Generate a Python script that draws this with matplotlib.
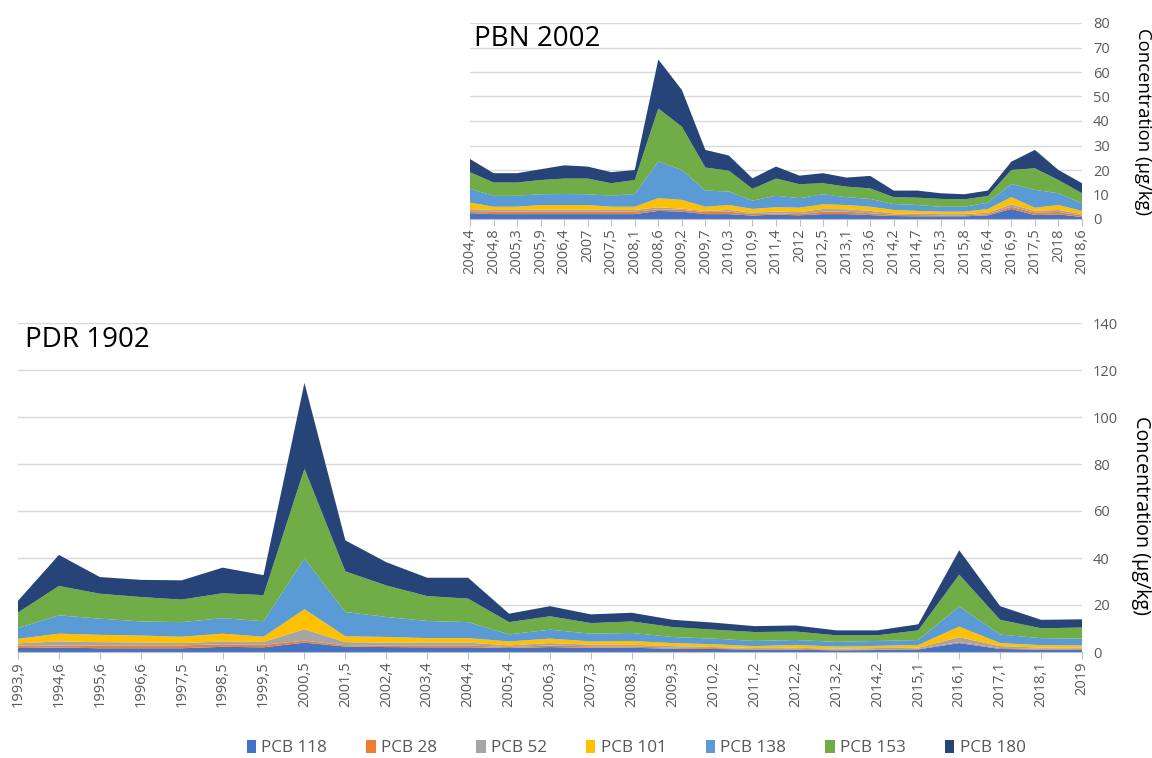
import numpy as np
import matplotlib
matplotlib.use("Agg")
import matplotlib.pyplot as plt
from matplotlib.patches import Patch

plt.rcParams['font.family'] = ['Open Sans', 'DejaVu Sans']

series_names = ['PCB 118', 'PCB 28', 'PCB 52', 'PCB 101', 'PCB 138', 'PCB 153', 'PCB 180']
colors = ['#4472C4', '#ED7D31', '#A5A5A5', '#FFC000', '#5B9BD5', '#70AD47', '#264478']

# --- PBN 2002 ---
pbn_dates = ['2004,4', '2004,8', '2005,3', '2005,9', '2006,4', '2007', '2007,5', '2008,1',
             '2008,6', '2009,2', '2009,7', '2010,3', '2010,9', '2011,4', '2012', '2012,5',
             '2013,1', '2013,6', '2014,2', '2014,7', '2015,3', '2015,8', '2016,4', '2016,9',
             '2017,5', '2018', '2018,6']
pbn_118 = [2.4, 2.0, 2.0, 2.0, 2.0, 2.0, 2.0, 2.0, 3.3, 3.0, 2.0, 2.0, 1.4, 1.8, 1.5, 2.0,
           2.0, 1.6, 1.2, 1.1, 1.1, 1.1, 1.5, 4.1, 1.6, 1.9, 0.8]
pbn_28 = [0.8, 1.0, 1.0, 1.0, 1.0, 1.0, 1.0, 1.0, 0.7, 0.7, 0.8, 1.0, 0.6, 0.5, 0.5, 1.0,
          1.0, 0.7, 0.6, 0.5, 0.4, 0.4, 0.5, 0.9, 1.0, 1.0, 0.6]
pbn_52 = [0.8, 0.7, 0.7, 0.8, 0.8, 0.8, 0.7, 0.7, 0.8, 0.5, 0.5, 0.7, 0.6, 0.7, 0.8, 1.1,
          1.0, 1.0, 0.5, 0.6, 0.5, 0.5, 0.6, 1.0, 0.7, 0.8, 0.6]
pbn_101 = [2.7, 1.3, 1.3, 1.9, 1.9, 1.9, 1.3, 1.3, 3.7, 3.6, 1.7, 2.0, 1.5, 1.8, 1.8, 1.9,
           1.7, 1.7, 1.4, 1.1, 1.0, 1.0, 1.5, 2.9, 1.3, 2.0, 1.3]
pbn_138 = [5.6, 4.5, 4.5, 4.4, 4.5, 4.4, 4.5, 5.2, 15.0, 12.2, 6.6, 5.5, 3.4, 4.7, 3.9, 4.1,
           3.2, 3.2, 2.4, 2.4, 2.0, 2.0, 2.6, 5.4, 7.3, 4.8, 3.1]
pbn_153 = [6.8, 5.4, 5.4, 5.8, 6.3, 6.4, 5.1, 5.7, 21.6, 17.7, 9.4, 8.5, 4.8, 7.0, 5.7, 4.5,
           4.3, 4.3, 2.8, 3.0, 3.2, 3.0, 2.7, 5.7, 8.8, 5.4, 4.1]
pbn_180 = [5.4, 3.8, 3.8, 4.4, 5.4, 4.9, 4.5, 4.1, 20.0, 15.0, 7.2, 6.2, 4.3, 4.9, 3.5, 4.1,
           3.7, 5.1, 2.7, 2.9, 2.3, 2.1, 2.2, 3.4, 7.5, 4.1, 4.1]

# --- PDR 1902 ---
pdr_dates = ['1993,9', '1994,6', '1995,6', '1996,6', '1997,5', '1998,5', '1999,5', '2000,5',
             '2001,5', '2002,4', '2003,4', '2004,4', '2005,4', '2006,3', '2007,3', '2008,3',
             '2009,3', '2010,2', '2011,2', '2012,2', '2013,2', '2014,2', '2015,1', '2016,1',
             '2017,1', '2018,1', '2019']
pdr_118 = [1.7, 1.9, 1.6, 1.6, 1.6, 2.2, 2.0, 4.0, 2.3, 2.1, 2.0, 2.0, 1.7, 2.1, 1.8, 1.8,
           1.4, 1.3, 1.0, 1.0, 0.7, 0.85, 1.1, 3.8, 1.3, 1.0, 1.0]
pdr_28 = [1.0, 0.8, 1.2, 1.2, 1.2, 1.1, 1.1, 0.8, 0.6, 0.7, 0.8, 0.8, 0.4, 0.7, 0.6, 0.6,
          0.4, 0.4, 0.3, 0.4, 0.3, 0.25, 0.3, 0.4, 0.4, 0.4, 0.4]
pdr_52 = [1.0, 1.8, 1.4, 1.3, 1.0, 1.2, 1.2, 4.9, 1.3, 1.2, 1.2, 1.2, 0.7, 1.0, 0.7, 0.7,
          0.7, 0.4, 0.4, 0.4, 0.4, 0.6, 0.4, 2.1, 0.8, 0.5, 0.4]
pdr_101 = [1.9, 3.3, 3.1, 2.9, 2.7, 3.3, 2.2, 8.5, 2.5, 2.4, 1.9, 1.9, 1.7, 1.9, 1.4, 1.6,
           1.3, 1.2, 0.8, 1.2, 0.9, 0.9, 1.2, 4.5, 1.3, 1.0, 1.0]
pdr_138 = [4.6, 7.8, 6.9, 6.0, 6.2, 6.6, 6.6, 21.5, 10.3, 8.5, 7.3, 6.8, 3.0, 3.8, 3.3, 3.4,
           2.6, 2.4, 2.2, 2.1, 2.0, 2.1, 2.1, 8.6, 3.6, 3.0, 2.9]
pdr_153 = [6.6, 12.5, 10.6, 10.4, 9.6, 10.6, 11.1, 38.3, 17.3, 13.4, 10.6, 10.0, 5.2, 5.7, 4.5, 4.9,
           4.2, 3.8, 3.8, 3.6, 2.8, 2.4, 4.1, 13.5, 6.3, 4.2, 4.7]
pdr_180 = [5.0, 13.2, 7.1, 7.3, 8.2, 10.9, 8.5, 36.5, 13.2, 9.9, 7.8, 8.9, 3.6, 4.3, 3.7, 3.7,
           3.1, 3.0, 2.5, 2.6, 2.1, 2.1, 2.6, 10.4, 5.8, 3.6, 3.5]

grey = '#595959'


def area_panel(ax, dates, layers, ymax, step, title):
    x = np.arange(len(dates))
    ax.stackplot(x, *layers, colors=colors, linewidth=0)
    ax.set_xlim(0, len(dates) - 1)
    ax.set_ylim(0, ymax)
    ax.set_yticks(np.arange(0, ymax + 1, step))
    ax.yaxis.tick_right()
    ax.set_xticks(x)
    ax.set_xticklabels(dates, rotation=90)
    ax.tick_params(axis='x', colors='#bfbfbf', labelcolor=grey, labelsize=10.5,
                   length=5, width=0.8, pad=2)
    ax.tick_params(axis='y', length=0, labelcolor=grey, labelsize=10.5, pad=8)
    ax.grid(axis='y', color='#d9d9d9', linewidth=1)
    ax.set_axisbelow(True)
    for s in ['top', 'left', 'right']:
        ax.spines[s].set_visible(False)
    ax.spines['bottom'].set_color('#bfbfbf')
    ax.text(0.007, 0.99, title, transform=ax.transAxes,
            fontsize=20, va='top', ha='left', color='black')


fig = plt.figure(figsize=(11.52, 7.58), dpi=100)

ax1 = fig.add_axes([470 / 1152, 1 - 219 / 758, 612 / 1152, 196 / 758])
area_panel(ax1, pbn_dates,
           [pbn_118, pbn_28, pbn_52, pbn_101, pbn_138, pbn_153, pbn_180], 80, 10, 'PBN 2002')

ax2 = fig.add_axes([18 / 1152, 1 - 652 / 758, 1064 / 1152, 329 / 758])
area_panel(ax2, pdr_dates,
           [pdr_118, pdr_28, pdr_52, pdr_101, pdr_138, pdr_153, pdr_180], 140, 20, 'PDR 1902')

fig.text(1143 / 1152, 1 - 121 / 758, 'Concentration (µg/kg)', rotation=-90,
         ha='center', va='center', fontsize=13.3)
fig.text(1141 / 1152, 1 - 516 / 758, 'Concentration (µg/kg)', rotation=-90,
         ha='center', va='center', fontsize=14.2)

handles = [Patch(facecolor=c, edgecolor='none') for c in colors]
fig.legend(handles, series_names, loc='center', bbox_to_anchor=(636 / 1152, 1 - 748 / 758),
           ncol=7, frameon=False, fontsize=12.3, handlelength=0.55, handleheight=0.8,
           handletextpad=0.3, columnspacing=2.3, labelcolor=grey)

fig.savefig('out.png', dpi=100)
